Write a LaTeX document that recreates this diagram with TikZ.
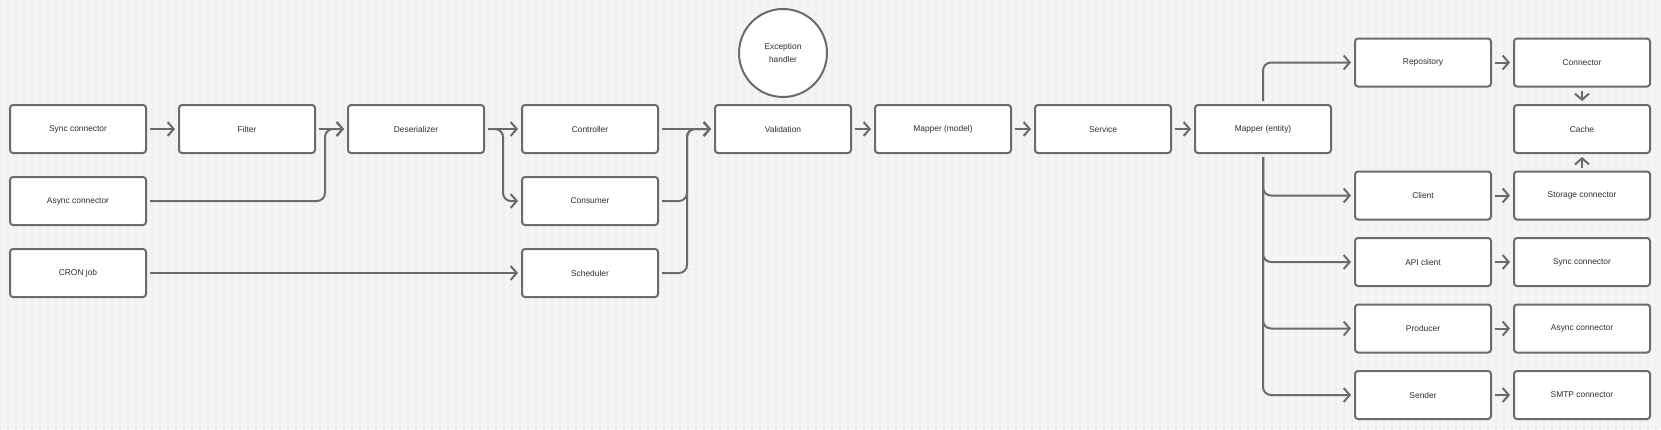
\documentclass[tikz,border=0pt]{standalone}
\usepackage{fontspec}
\setmainfont{Liberation Sans}
\usetikzlibrary{arrows.meta}
\usetikzlibrary{patterns.meta}

\definecolor{canvas}{HTML}{F4F4F4}
\definecolor{griddot}{HTML}{DCDCDC}
\definecolor{edge}{HTML}{6B6B6B}
\definecolor{label}{HTML}{2E2E2E}

\begin{document}
\begin{tikzpicture}[x=1pt, y=-1pt,
    box/.style={draw=edge, fill=white, line width=2pt, rounded corners=3pt,
        minimum width=136pt, minimum height=48pt, inner sep=0pt,
        font=\fontsize{8.4}{12.6}\selectfont, text=label},
    handler/.style={circle, draw=edge, fill=white, line width=2pt,
        minimum size=88pt, inner sep=0pt, align=center,
        font=\fontsize{8.4}{12.6}\selectfont, text=label},
    flow/.style={draw=edge, line width=2pt, rounded corners=8pt,
        -{Straight Barb[length=6pt,width=14pt]},
        shorten <=3pt, shorten >=3pt}]

    % Canvas with dot grid
    \fill[canvas] (0,0) rectangle (1661,429);
    \fill[pattern={Dots[distance=8pt, radius=0.9pt]}, pattern color=griddot] (0,0) rectangle (1661,429);
    \useasboundingbox (0,0) rectangle (1661,429);

    % LEFT: Inputs
    \node[box] (syncIn) at (78,129) {Sync connector};
    \node[box] (asyncIn) at (78,201) {Async connector};
    \node[box] (cron) at (78,273) {CRON job};
    \node[box] (filter) at (247,129) {Filter};
    \node[box] (deser) at (416,129) {Deserializer};

    % Entry points
    \node[box] (controller) at (590,129) {Controller};
    \node[box] (consumer) at (590,201) {Consumer};
    \node[box] (scheduler) at (590,273) {Scheduler};

    % Core
    \node[handler] (exc) at (783,53) {Exception\\handler};
    \node[box] (valid) at (783,129) {Validation};
    \node[box] (mapModel) at (943,129) {Mapper (model)};
    \node[box] (service) at (1103,129) {Service};
    \node[box] (mapEntity) at (1263,129) {Mapper (entity)};

    % RIGHT: Outputs
    \node[box] (repo) at (1423,62.5) {Repository};
    \node[box] (conn) at (1582,62.5) {Connector};
    \node[box] (cache) at (1582,129) {Cache};
    \node[box] (client) at (1423,195.5) {Client};
    \node[box] (storage) at (1582,195.5) {Storage connector};
    \node[box] (apiClient) at (1423,262) {API client};
    \node[box] (syncOut) at (1582,262) {Sync connector};
    \node[box] (producer) at (1423,328.5) {Producer};
    \node[box] (asyncOut) at (1582,328.5) {Async connector};
    \node[box] (sender) at (1423,395) {Sender};
    \node[box] (smtp) at (1582,395) {SMTP connector};

    % Arrows into the deserializer
    \draw[flow] (syncIn) -- (filter);
    \draw[flow] (filter) -- (deser);
    \draw[flow] (asyncIn.east) -- ++(178,0) |- (deser.west);

    % Arrows to entry points
    \draw[flow] (deser) -- (controller);
    \draw[flow] (deser.east) -- ++(18,0) |- (consumer.west);
    \draw[flow] (cron) -- (scheduler);

    % Arrows into validation
    \draw[flow] (controller) -- (valid);
    \draw[flow] (consumer.east) -- ++(28,0) |- (valid.west);
    \draw[flow] (scheduler.east) -- ++(28,0) |- (valid.west);

    % Main chain
    \draw[flow] (valid) -- (mapModel);
    \draw[flow] (mapModel) -- (service);
    \draw[flow] (service) -- (mapEntity);

    % Fan out from the entity mapper
    \draw[flow] (mapEntity.north) |- (repo.west);
    \foreach \target in {client, apiClient, producer, sender}
        \draw[flow] (mapEntity.south) |- (\target.west);

    % Adapters
    \draw[flow] (repo) -- (conn);
    \draw[flow] (client) -- (storage);
    \draw[flow] (apiClient) -- (syncOut);
    \draw[flow] (producer) -- (asyncOut);
    \draw[flow] (sender) -- (smtp);
    \draw[flow] (conn) -- (cache);
    \draw[flow] (storage) -- (cache);

\end{tikzpicture}
\end{document}
